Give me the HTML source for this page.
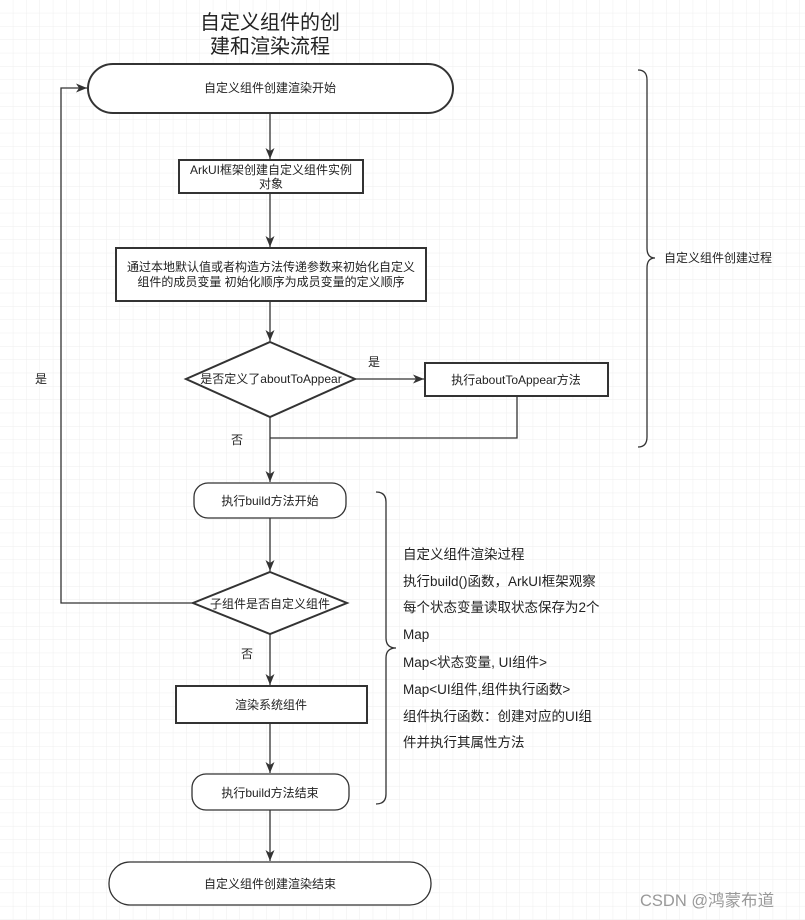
<!DOCTYPE html>
<html><head><meta charset="utf-8"><style>
html,body{margin:0;padding:0;background:#fff}
svg{display:block}
text{font-family:"Liberation Sans","Noto Sans CJK SC",sans-serif;fill:#222}
</style></head><body>
<svg width="805" height="920" viewBox="0 0 805 920" xmlns="http://www.w3.org/2000/svg">
<defs>
<pattern id="g" width="13.33" height="13.33" patternUnits="userSpaceOnUse">
<path d="M13.33 0V13.33H0" fill="none" stroke="#eeeeee" stroke-width="1"/>
</pattern>
<marker id="a" markerWidth="12" markerHeight="12" refX="11" refY="6" orient="auto" markerUnits="userSpaceOnUse">
<path d="M0,1.5 L11,6 L0,10.5 L3,6 Z" fill="#333"/>
</marker>
</defs>
<rect width="805" height="920" fill="url(#g)"/>
<g fill="none" stroke="#333" stroke-width="1.3">
<text x="270" y="29" font-size="20" text-anchor="middle" stroke="none">自定义组件的创</text>
<text x="270" y="53" font-size="20" text-anchor="middle" stroke="none">建和渲染流程</text>

<rect x="88" y="64" width="365" height="49" rx="25" fill="#fff" stroke-width="2"/>
<line x1="270" y1="113" x2="270" y2="159" marker-end="url(#a)"/>
<rect x="179" y="160" width="184" height="33" fill="#fff" stroke-width="2"/>
<line x1="270" y1="193" x2="270" y2="247" marker-end="url(#a)"/>
<rect x="116" y="248" width="310" height="53" fill="#fff" stroke-width="2"/>
<line x1="270" y1="301" x2="270" y2="341" marker-end="url(#a)"/>
<polygon points="270,342 355,379 270,417 186,379" fill="#fff" stroke-width="2"/>
<line x1="355" y1="379" x2="424" y2="379" marker-end="url(#a)"/>
<rect x="425" y="363" width="183" height="33" fill="#fff" stroke-width="2"/>
<polyline points="517,396 517,438 270,438"/>
<line x1="270" y1="417" x2="270" y2="482" marker-end="url(#a)"/>
<rect x="194" y="483" width="152" height="35" rx="14" fill="#fff"/>
<line x1="270" y1="518" x2="270" y2="571" marker-end="url(#a)"/>
<polygon points="270,572 347,603 270,634 193,603" fill="#fff" stroke-width="2"/>
<polyline points="193,603 61,603 61,88 87,88" marker-end="url(#a)"/>
<line x1="270" y1="634" x2="270" y2="685" marker-end="url(#a)"/>
<rect x="176" y="686" width="191" height="37" fill="#fff" stroke-width="2"/>
<line x1="270" y1="723" x2="270" y2="773" marker-end="url(#a)"/>
<rect x="192" y="774" width="157" height="36" rx="14" fill="#fff"/>
<line x1="270" y1="810" x2="270" y2="861" marker-end="url(#a)"/>
<rect x="109" y="862" width="322" height="43" rx="21" fill="#fff"/>

<path d="M638,70 Q647,70 647,80 L647,248 Q647,258 655,258 Q647,258 647,268 L647,437 Q647,447 638,447"/>
<path d="M376,492 Q386,492 386,502 L386,638 Q386,648 396,648 Q386,648 386,658 L386,794 Q386,804 376,804"/>
</g>
<g font-size="12" text-anchor="middle">
<text x="270" y="92">自定义组件创建渲染开始</text>
<text x="271" y="174">ArkUI框架创建自定义组件实例</text>
<text x="271" y="188">对象</text>
<text x="271" y="271">通过本地默认值或者构造方法传递参数来初始化自定义</text>
<text x="271" y="286">组件的成员变量  初始化顺序为成员变量的定义顺序</text>
<text x="271" y="383">是否定义了aboutToAppear</text>
<text x="516" y="384">执行aboutToAppear方法</text>
<text x="374" y="366">是</text>
<text x="237" y="444">否</text>
<text x="41" y="383">是</text>
<text x="270" y="505">执行build方法开始</text>
<text x="270" y="608">子组件是否自定义组件</text>
<text x="247" y="658">否</text>
<text x="271" y="709">渲染系统组件</text>
<text x="270" y="797">执行build方法结束</text>
<text x="270" y="888">自定义组件创建渲染结束</text>
</g>
<text x="664" y="262" font-size="12">自定义组件创建过程</text>
<g font-size="13.5">
<text x="403" y="559">自定义组件渲染过程</text>
<text x="403" y="586">执行build()函数，ArkUI框架观察</text>
<text x="403" y="612">每个状态变量读取状态保存为2个</text>
<text x="403" y="639">Map</text>
<text x="403" y="667">Map&lt;状态变量, UI组件&gt;</text>
<text x="403" y="694">Map&lt;UI组件,组件执行函数&gt;</text>
<text x="403" y="721">组件执行函数：创建对应的UI组</text>
<text x="403" y="747">件并执行其属性方法</text>
</g>
<text x="640" y="906" font-size="16.5" style="fill:#999">CSDN @鸿蒙布道</text>
</svg>
</body></html>
